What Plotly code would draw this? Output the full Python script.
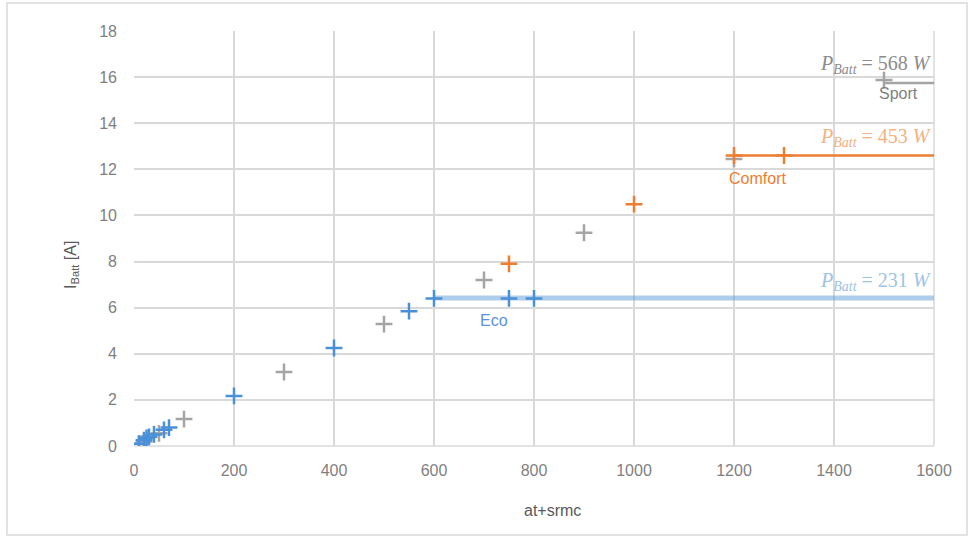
import plotly.graph_objects as go

# Battery current vs. at+srmc for the three drive modes
eco_x = [10, 20, 25, 30, 40, 60, 70, 200, 400, 550, 600, 750, 800]
eco_y = [0.1, 0.25, 0.35, 0.4, 0.5, 0.7, 0.8, 2.17, 4.25, 5.85, 6.4, 6.4, 6.4]

sport_x = [10, 20, 50, 100, 300, 500, 700, 900, 1200, 1500]
sport_y = [0.1, 0.2, 0.55, 1.17, 3.21, 5.29, 7.2, 9.25, 12.45, 15.87]

comfort_x = [750, 1000, 1200, 1300]
comfort_y = [7.9, 10.49, 12.6, 12.6]

# Power-limit plateaus (start x, end x, current)
eco_limit = ([600, 1600], [6.42, 6.42])
comfort_limit = ([1200, 1600], [12.6, 12.6])
sport_limit = ([1500, 1600], [15.74, 15.74])

BLUE = "#4A90D9"
ORANGE = "#ED7D31"
GRAY = "#A5A5A5"

fig = go.Figure()

fig.add_trace(go.Scatter(x=eco_limit[0], y=eco_limit[1], mode="lines",
                         line=dict(color="rgba(91,155,213,0.5)", width=5),
                         hoverinfo="skip", showlegend=False))
fig.add_trace(go.Scatter(x=comfort_limit[0], y=comfort_limit[1], mode="lines",
                         line=dict(color=ORANGE, width=2.5),
                         hoverinfo="skip", showlegend=False))
fig.add_trace(go.Scatter(x=sport_limit[0], y=sport_limit[1], mode="lines",
                         line=dict(color=GRAY, width=2.5),
                         hoverinfo="skip", showlegend=False))

marker_common = dict(symbol="cross-thin", size=12)
fig.add_trace(go.Scatter(x=sport_x, y=sport_y, mode="markers", name="Sport",
                         marker=dict(**marker_common, line=dict(color=GRAY, width=2.5))))
fig.add_trace(go.Scatter(x=eco_x, y=eco_y, mode="markers", name="Eco",
                         marker=dict(**marker_common, line=dict(color=BLUE, width=2.5))))
fig.add_trace(go.Scatter(x=comfort_x, y=comfort_y, mode="markers", name="Comfort",
                         marker=dict(**marker_common, line=dict(color=ORANGE, width=2.5))))

label_font = "Liberation Sans, Arial, sans-serif"
math_font = "Liberation Serif, DejaVu Serif, serif"

annotations = [
    dict(x=1600, y=16.55, text="<i>P</i><sub><i>Batt</i></sub> = 568 <i>W</i>",
         xanchor="right", font=dict(family=math_font, size=20, color="#8C8C8C")),
    dict(x=1528, y=15.3, text="Sport", xanchor="center",
         font=dict(family=label_font, size=16, color="#7F7F7F")),
    dict(x=1600, y=13.4, text="<i>P</i><sub><i>Batt</i></sub> = 453 <i>W</i>",
         xanchor="right", font=dict(family=math_font, size=20, color="#F4B183")),
    dict(x=1246, y=11.6, text="Comfort", xanchor="center",
         font=dict(family=label_font, size=16, color=ORANGE)),
    dict(x=1600, y=7.15, text="<i>P</i><sub><i>Batt</i></sub> = 231 <i>W</i>",
         xanchor="right", font=dict(family=math_font, size=20, color="#9DC3E6")),
    dict(x=720, y=5.45, text="Eco", xanchor="center",
         font=dict(family=label_font, size=16, color="#5B8FE0")),
    # axis titles
    dict(xref="paper", yref="paper", x=(552 - 134) / 800, y=(446 - 510) / 415,
         text="at+srmc", xanchor="center",
         font=dict(family=label_font, size=16, color="#595959")),
    dict(xref="paper", yref="paper", x=(71 - 134) / 800, y=(446 - 265) / 415,
         text="I<sub>Batt</sub> [A]", textangle=-90, xanchor="center",
         font=dict(family=label_font, size=16, color="#595959")),
]
for a in annotations:
    a.setdefault("xref", "x")
    a.setdefault("yref", "y")
    a.update(showarrow=False, yanchor="middle")

tick_font = dict(family="Liberation Sans Narrow, Liberation Sans, Arial, sans-serif",
                 size=16, color="#7F7F7F")

fig.update_layout(
    width=971, height=538,
    margin=dict(l=134, r=37, t=31, b=92),
    paper_bgcolor="white", plot_bgcolor="white",
    showlegend=False,
    annotations=annotations,
    xaxis=dict(range=[0, 1600], dtick=200, tick0=0, showgrid=True,
               gridcolor="#D9D9D9", gridwidth=1.5, zeroline=False,
               showline=False, tickfont=tick_font, ticks="",
               ticklabelstandoff=13),
    yaxis=dict(range=[0, 18], dtick=2, tick0=0, showgrid=True,
               gridcolor="#D9D9D9", gridwidth=1.5, zeroline=False,
               showline=False, tickfont=tick_font, ticks="",
               ticklabelstandoff=16),
    shapes=[
        # chart-area outline
        dict(type="rect", xref="paper", yref="paper",
             x0=(7 - 134) / 800, x1=(967 - 134) / 800,
             y0=(446 - 535) / 415, y1=(446 - 3) / 415,
             line=dict(color="#D9D9D9", width=1.5), layer="below"),
        # right and bottom edges of the plot area
        dict(type="line", xref="paper", yref="paper", x0=1, x1=1, y0=0, y1=1,
             line=dict(color="#D9D9D9", width=1.5), layer="below"),
        dict(type="line", xref="paper", yref="paper", x0=0, x1=1, y0=0, y1=0,
             line=dict(color="#D9D9D9", width=1.5), layer="below"),
    ],
)

fig.write_html("out.html")
